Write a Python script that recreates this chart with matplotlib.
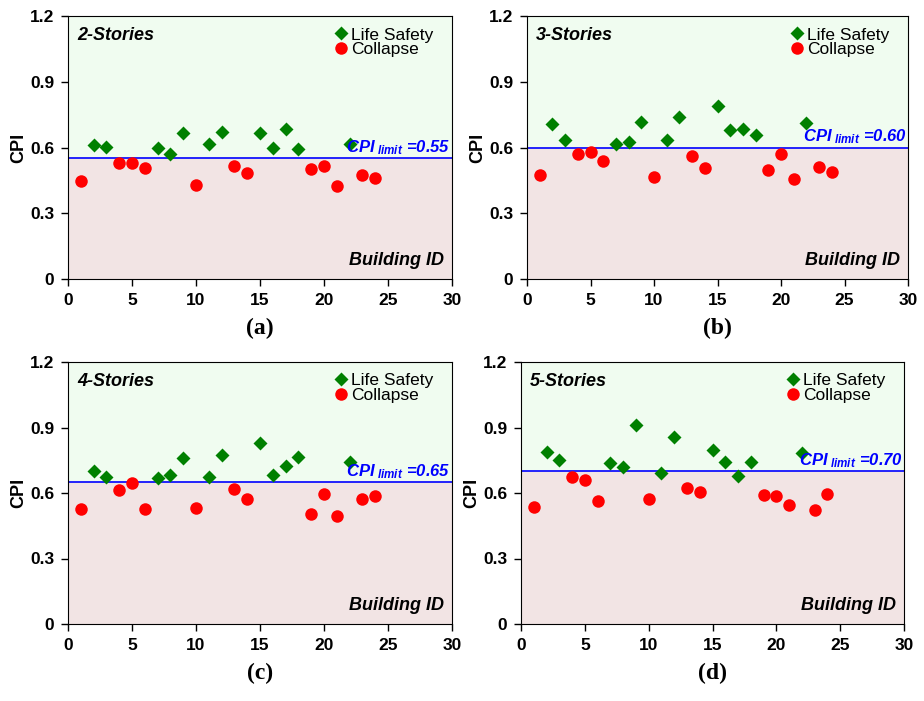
import numpy as np
import matplotlib.pyplot as plt

plt.rcParams['font.family'] = ['Liberation Sans', 'DejaVu Sans']
plt.rcParams['mathtext.fontset'] = 'custom'
plt.rcParams['mathtext.it'] = 'Liberation Sans:italic:bold'
plt.rcParams['mathtext.rm'] = 'Liberation Sans:italic:bold'

# building ids
ls_ids = [2, 3, 7, 8, 9, 11, 12, 15, 16, 17, 18, 22]
col_ids = [1, 4, 5, 6, 10, 13, 14, 19, 20, 21, 23, 24]

# CPI values
ls_2 = [0.612, 0.604, 0.597, 0.571, 0.665, 0.616, 0.670, 0.665, 0.597, 0.683, 0.592, 0.615]
col_2 = [0.447, 0.531, 0.531, 0.505, 0.429, 0.517, 0.484, 0.504, 0.516, 0.426, 0.473, 0.461]

ls_3 = [0.706, 0.635, 0.618, 0.623, 0.718, 0.633, 0.738, 0.790, 0.679, 0.686, 0.656, 0.712]
col_3 = [0.475, 0.571, 0.580, 0.540, 0.467, 0.562, 0.508, 0.496, 0.572, 0.457, 0.511, 0.489]

ls_4 = [0.702, 0.675, 0.667, 0.681, 0.759, 0.675, 0.774, 0.831, 0.681, 0.724, 0.764, 0.744]
col_4 = [0.525, 0.614, 0.647, 0.525, 0.530, 0.617, 0.574, 0.502, 0.594, 0.493, 0.571, 0.586]

ls_5 = [0.786, 0.750, 0.736, 0.718, 0.913, 0.690, 0.855, 0.797, 0.744, 0.678, 0.744, 0.782]
col_5 = [0.534, 0.675, 0.658, 0.563, 0.571, 0.621, 0.606, 0.592, 0.586, 0.544, 0.522, 0.594]

titles = ['2-Stories', '3-Stories', '4-Stories', '5-Stories']
limits = [0.55, 0.60, 0.65, 0.70]
letters = ['(a)', '(b)', '(c)', '(d)']
ls_all = [ls_2, ls_3, ls_4, ls_5]
col_all = [col_2, col_3, col_4, col_5]

W, H = 924, 701
fig = plt.figure(figsize=(W / 100, H / 100), dpi=100)

# axes boxes in pixels: left, right, top, bottom
boxes = [(68, 452, 16, 279), (527, 908, 16, 279),
         (68, 452, 362, 624), (521, 904, 362, 624)]

for i, (l, r, t, b) in enumerate(boxes):
    ax = fig.add_axes([l / W, 1 - b / H, (r - l) / W, (b - t) / H])
    lim = limits[i]
    ax.axhspan(lim, 1.2, color='#f0fcf0', zorder=0)
    ax.axhspan(0, lim, color='#f2e4e4', zorder=0)
    ax.axhline(lim, color='#0000ff', lw=1.2, zorder=1)

    ax.plot(ls_ids, ls_all[i], 'D', color='#008000', ms=7.5, mec='none',
            label='Life Safety', zorder=3)
    ax.plot(col_ids, col_all[i], 'o', color='#ff0000', ms=9, mec='none',
            label='Collapse', zorder=3)

    ax.set_xlim(0, 30)
    ax.set_ylim(0, 1.2)
    ax.set_xticks([0, 5, 10, 15, 20, 25, 30])
    ax.set_yticks([0, 0.3, 0.6, 0.9, 1.2])
    ax.set_yticklabels(['0', '0.3', '0.6', '0.9', '1.2'])
    ax.tick_params(direction='out', length=5, width=1, labelsize=12.5)
    for lab in ax.get_xticklabels() + ax.get_yticklabels():
        lab.set_fontweight('bold')
    ax.tick_params(axis='x', pad=5)
    ax.tick_params(axis='y', pad=5)
    ax.set_ylabel('CPI', fontsize=13, fontweight='bold', labelpad=2)

    ax.text(0.023, 0.924, titles[i], transform=ax.transAxes, fontsize=13,
            fontweight='bold', style='italic', va='center', ha='left')
    ax.text(0.979, 0.072, 'Building ID', transform=ax.transAxes, fontsize=13,
            fontweight='bold', style='italic', va='center', ha='right')
    ax.text(29.9, lim + 0.006, r'$CPI_{\ limit}$' + ' =%.2f' % lim,
            color='#0000ff', fontsize=12, fontweight='bold', style='italic',
            ha='right', va='bottom')

    ax.legend(loc='upper right', bbox_to_anchor=(0.96, 0.97), frameon=False,
              fontsize=12.5, handlelength=0.5, handletextpad=0.3,
              labelspacing=-0.05, borderaxespad=0.0, borderpad=0.2)

    fig.text((l + r) / 2 / W, 1 - (b + 49) / H, letters[i], fontsize=17,
             fontweight='bold', family=['Liberation Serif', 'DejaVu Serif'],
             ha='center', va='center')

fig.savefig('out.png', dpi=100)
